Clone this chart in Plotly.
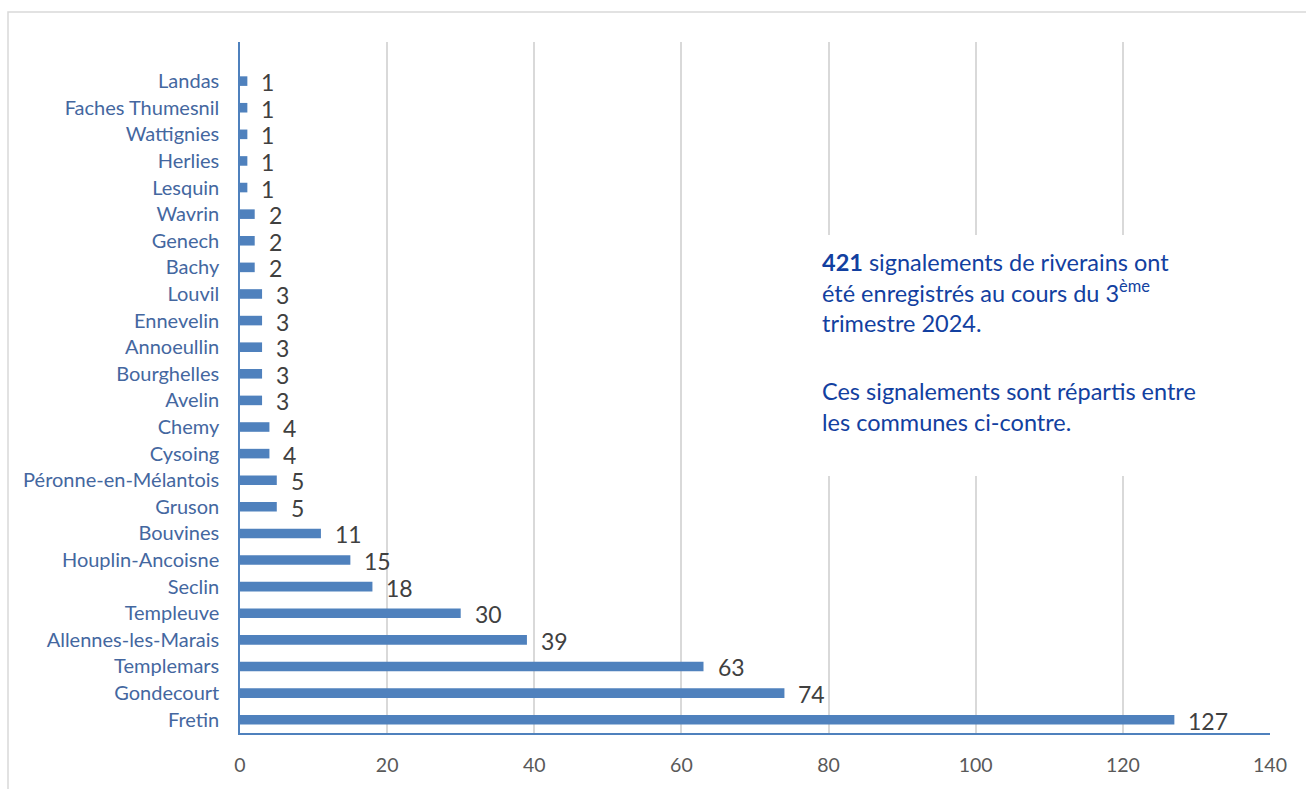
import plotly.graph_objects as go

# Communes listed bottom-to-top, with the number of reports for each
communes = [
    "Fretin", "Gondecourt", "Templemars", "Allennes-les-Marais", "Templeuve",
    "Seclin", "Houplin-Ancoisne", "Bouvines", "Gruson", "Péronne-en-Mélantois",
    "Cysoing", "Chemy", "Avelin", "Bourghelles", "Annoeullin", "Ennevelin",
    "Louvil", "Bachy", "Genech", "Wavrin", "Lesquin", "Herlies", "Wattignies",
    "Faches Thumesnil", "Landas",
]
signalements = [
    127, 74, 63, 39, 30,
    18, 15, 11, 5, 5,
    4, 4, 3, 3, 3, 3,
    3, 2, 2, 2, 1, 1, 1,
    1, 1,
]
x_ticks = [0, 20, 40, 60, 80, 100, 120, 140]

note_paragraphs = [
    ("<b>421</b> signalements de riverains ont<br>"
     "été enregistrés au cours du 3<sup>ème</sup><br>"
     "trimestre 2024."),
    ("Ces signalements sont répartis entre<br>"
     "les communes ci-contre."),
]

FONT = "Lato, Open Sans, sans-serif"
BAR_BLUE = "#4F81BD"
LABEL_BLUE = "#44679F"
NOTE_BLUE = "#1240A0"


def px_x(px):
    """Horizontal pixel position -> paper fraction of the plot area."""
    return (px - 240) / 1030


def px_y(px):
    """Vertical pixel position -> paper fraction of the plot area."""
    return (733 - px) / 691


fig = go.Figure()
fig.add_trace(go.Bar(
    x=signalements,
    y=communes,
    orientation="h",
    width=0.36,
    marker=dict(color=BAR_BLUE, line=dict(width=0)),
    hoverinfo="x+y",
))

# Value labels just past the end of each bar
for c, v in zip(communes, signalements):
    fig.add_annotation(
        x=v, y=c, text=str(v), showarrow=False,
        xanchor="left", yanchor="middle", xshift=12, yshift=-1,
        font=dict(family=FONT, size=23, color="#404040"),
    )

# White panel holding the summary note, over the gridlines
fig.add_shape(
    type="rect", xref="paper", yref="paper",
    x0=px_x(805), x1=px_x(1245), y0=px_y(476), y1=px_y(235),
    fillcolor="white", line=dict(width=0), layer="above",
)
for para, top in zip(note_paragraphs, [246, 375]):
    fig.add_annotation(
        xref="paper", yref="paper", x=px_x(820), y=px_y(top),
        xanchor="left", yanchor="top", align="left", showarrow=False,
        text=para,
        font=dict(family=FONT, size=23.5, color=NOTE_BLUE),
    )

# Light outer frame around the chart
fig.add_shape(
    type="rect", xref="paper", yref="paper",
    x0=px_x(8), x1=px_x(1400), y0=px_y(900), y1=px_y(12),
    line=dict(color="#D9D9D9", width=1.5), fillcolor="rgba(0,0,0,0)",
    layer="below",
)

fig.update_layout(
    width=1306, height=789,
    margin=dict(l=240, r=36, t=42, b=56),
    paper_bgcolor="white", plot_bgcolor="white",
    showlegend=False,
    font=dict(family=FONT),
    xaxis=dict(
        range=[0, 140], tickvals=x_ticks,
        showgrid=True, gridcolor="#D9D9D9", gridwidth=1.5,
        zeroline=False,
        showline=True, linecolor=BAR_BLUE, linewidth=1.5,
        ticks="", tickfont=dict(family=FONT, size=19.5, color="#595959"),
        ticklabelstandoff=14,
    ),
    yaxis=dict(
        type="category", categoryorder="array", categoryarray=communes,
        range=[-0.5, 25.47],
        showgrid=False, zeroline=False,
        showline=True, linecolor=BAR_BLUE, linewidth=1.5,
        ticks="", tickfont=dict(family=FONT, size=20, color=LABEL_BLUE),
        ticklabelstandoff=15,
    ),
)

fig.write_html("out.html")
